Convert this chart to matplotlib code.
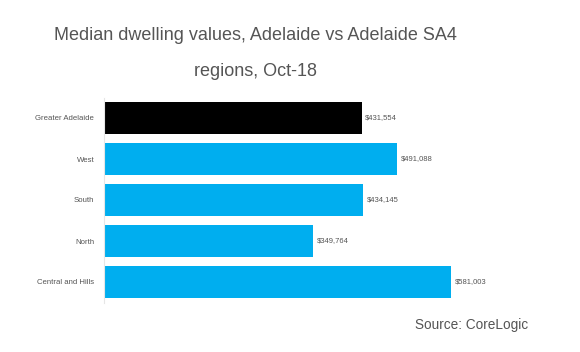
import matplotlib
matplotlib.use('Agg')
import matplotlib.pyplot as plt

regions = ['Greater Adelaide', 'West', 'South', 'North', 'Central and Hills']
values = [431554, 491088, 434145, 349764, 581003]
colors = ['#000000', '#00AEEF', '#00AEEF', '#00AEEF', '#00AEEF']

plt.rcParams['font.family'] = ['Liberation Sans', 'DejaVu Sans']

fig = plt.figure(figsize=(5.8, 3.52), dpi=100)
ax = fig.add_axes([104 / 580, 1 - 302.5 / 352, 436 / 580, 205 / 352])

y = list(range(len(regions)))
ax.barh(y, values, height=0.78, color=colors)
ax.set_ylim(len(regions) - 0.5, -0.5)
ax.set_xlim(0, 730000)
ax.set_yticks(y)
ax.set_yticklabels(regions, fontsize=5.6, color='#555555')
ax.tick_params(axis='y', length=0, pad=7)
ax.set_xticks([])
for s in ['top', 'right', 'bottom']:
    ax.spines[s].set_visible(False)
ax.spines['left'].set_color('#e6e6e6')
ax.spines['left'].set_linewidth(0.8)

for yi, v in zip(y, values):
    ax.text(v + 6000, yi, '${:,}'.format(v), va='center', ha='left',
            fontsize=5.5, color='#555555')

fig.text(255 / 580, 1 - 35 / 352, 'Median dwelling values, Adelaide vs Adelaide SA4',
         ha='center', va='center', fontsize=13, color='#555555')
fig.text(255 / 580, 1 - 71 / 352, 'regions, Oct-18',
         ha='center', va='center', fontsize=13, color='#555555')
fig.text(472 / 580, 1 - 325 / 352, 'Source: CoreLogic',
         ha='center', va='center', fontsize=9.8, color='#555555')

fig.savefig('out.png', dpi=100)
